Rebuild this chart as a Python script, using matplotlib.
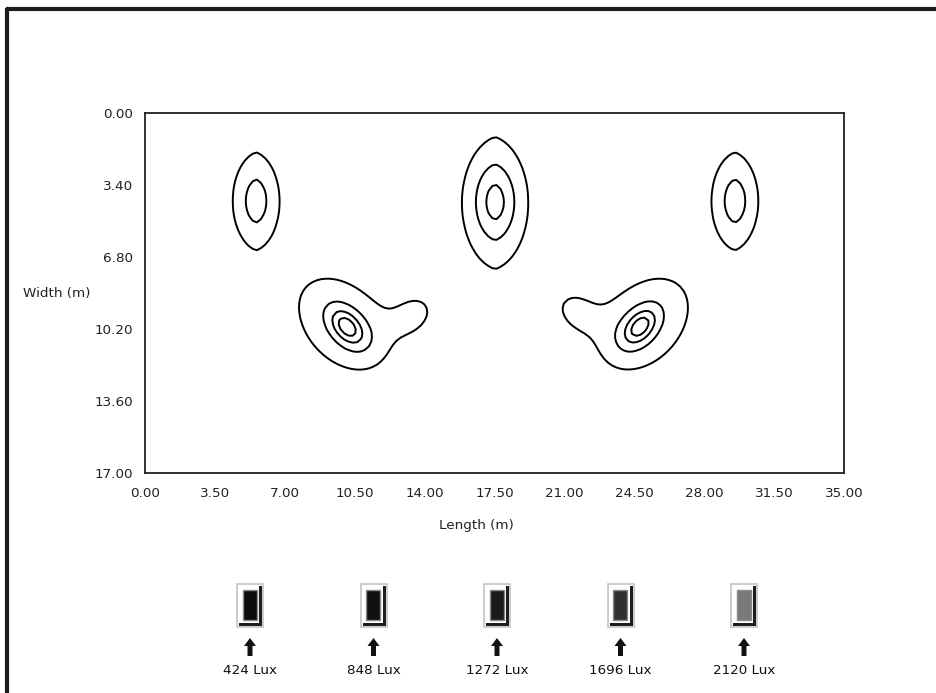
import numpy as np
import matplotlib
matplotlib.use('Agg')
import matplotlib.pyplot as plt
from matplotlib.patches import Rectangle, Polygon

#%%

# illuminance levels of the iso-lux lines
levels = [424, 848, 1272, 1696, 2120]
level_labels = ['424 Lux', '848 Lux', '1272 Lux', '1696 Lux', '2120 Lux']
swatch_colors = ['#0c0c0c', '#111111', '#1a1a1a', '#303030', '#7a7a7a']

x_ticks = [0.00, 3.50, 7.00, 10.50, 14.00, 17.50, 21.00, 24.50, 28.00, 31.50, 35.00]
y_ticks = [0.00, 3.40, 6.80, 10.20, 13.60, 17.00]

# luminaire spots (m, lux), cos^3 like fall off
src_x = [5.56, 17.53, 29.54, 10.12, 13.30, 24.79, 21.75]
src_y = [4.15, 4.20, 4.15, 10.10, 9.60, 10.09, 9.46]
src_peak = [1063, 1443, 1063, 1650, 650, 1650, 650]
src_major = [2.47, 2.71, 2.47, 1.20, 1.30, 1.20, 1.30]
src_minor = [1.50, 1.74, 1.50, 0.75, 0.95, 0.75, 0.95]
src_angle = [90, 90, 90, 45, -33, -45, 33]
src_point = [0.2, 0.2, 0.2, 0, 0, 0, 0]   # slightly pointed ends on the top row

# flat topped glow round the two lower spots
halo_x = [9.75, 25.16]
halo_y = [9.90, 9.90]
halo_peak = [375, 375]
halo_major = [2.20, 2.20]
halo_minor = [1.72, 1.72]
halo_angle = [45, -45]

#%%

def rotated_r2(X, Y, x0, y0, a, b, ang, c=0.0):
    t = np.deg2rad(ang)
    u = (X - x0) * np.cos(t) + (Y - y0) * np.sin(t)
    v = -(X - x0) * np.sin(t) + (Y - y0) * np.cos(t)
    r = np.sqrt((u / a) ** 2 + (v / b) ** 2) + c * np.abs(v) / b
    return r ** 2


xg = np.linspace(0, 35, 176)
yg = np.linspace(0, 17, 86)
X, Y = np.meshgrid(xg, yg)

lux = np.zeros_like(X)
for i in range(len(src_x)):
    r2 = rotated_r2(X, Y, src_x[i], src_y[i], src_major[i], src_minor[i],
                    src_angle[i], src_point[i])
    lux += src_peak[i] * (1 + r2) ** -1.5
for i in range(len(halo_x)):
    r2 = rotated_r2(X, Y, halo_x[i], halo_y[i], halo_major[i], halo_minor[i], halo_angle[i])
    lux += halo_peak[i] * np.exp(-(r2 / 2) ** 2)

#%%

W, H = 936, 693
fig = plt.figure(figsize=(W / 100, H / 100), dpi=100)
fig.patch.set_facecolor('white')

ax = fig.add_axes([145 / W, 1 - 473 / H, 699 / W, 360 / H])
ax.contour(X, Y, lux, levels=levels, colors='black', linewidths=1.4)
ax.set_xlim(0, 35)
ax.set_ylim(17, 0)

ax.set_xticks(x_ticks)
ax.set_xticklabels(['%.2f' % v for v in x_ticks])
ax.set_yticks(y_ticks)
ax.set_yticklabels(['%.2f' % v for v in y_ticks])
ax.tick_params(length=0, labelsize=9.7, colors='#222222')
ax.tick_params(axis='x', pad=10)
ax.tick_params(axis='y', pad=8.5)
for sp in ax.spines.values():
    sp.set_linewidth(1.3)
    sp.set_color('#222222')

ax.set_xlabel('Length (m)', fontsize=9.7, color='#222222')
ax.xaxis.set_label_coords((476 - 145) / 699, (473 - 526) / 360)
ax.xaxis.label.set_verticalalignment('center')
ax.set_ylabel('Width (m)', fontsize=9.7, color='#222222', rotation=0)
ax.yaxis.set_label_coords((57 - 145) / 699, 0.5)
ax.yaxis.label.set_verticalalignment('center')
ax.yaxis.label.set_horizontalalignment('center')

#%%

# page frame and the legend swatches, drawn in pixel units
ov = fig.add_axes([0, 0, 1, 1], zorder=-1)
ov.set_xlim(0, W)
ov.set_ylim(H, 0)
ov.axis('off')

ov.plot([6, W], [9, 9], color='#1c1c1c', lw=3, solid_capstyle='butt')
ov.plot([7, 7], [8, H], color='#1c1c1c', lw=3, solid_capstyle='butt')

for i in range(len(levels)):
    cx = 250 + 123.5 * i
    ov.add_patch(Rectangle((cx - 13, 584), 26, 43, facecolor='white',
                           edgecolor='#c4c4c4', lw=1.2))
    ov.add_patch(Rectangle((cx + 9, 586), 3, 40, facecolor='#1e1e1e', lw=0))
    ov.add_patch(Rectangle((cx - 11, 623), 23, 3, facecolor='#1e1e1e', lw=0))
    ov.add_patch(Rectangle((cx - 7.5, 590), 14, 30, facecolor=swatch_colors[i],
                           edgecolor='#8a8a8a', lw=1.0))
    ov.add_patch(Polygon([(cx, 638), (cx + 6, 646), (cx + 2.5, 646), (cx + 2.5, 656),
                          (cx - 2.5, 656), (cx - 2.5, 646), (cx - 6, 646)],
                         closed=True, facecolor='#111111', lw=0))
    ov.text(cx, 670, level_labels[i], ha='center', va='center', fontsize=9.7,
            color='#111111')

fig.savefig('out.png', dpi=100)
